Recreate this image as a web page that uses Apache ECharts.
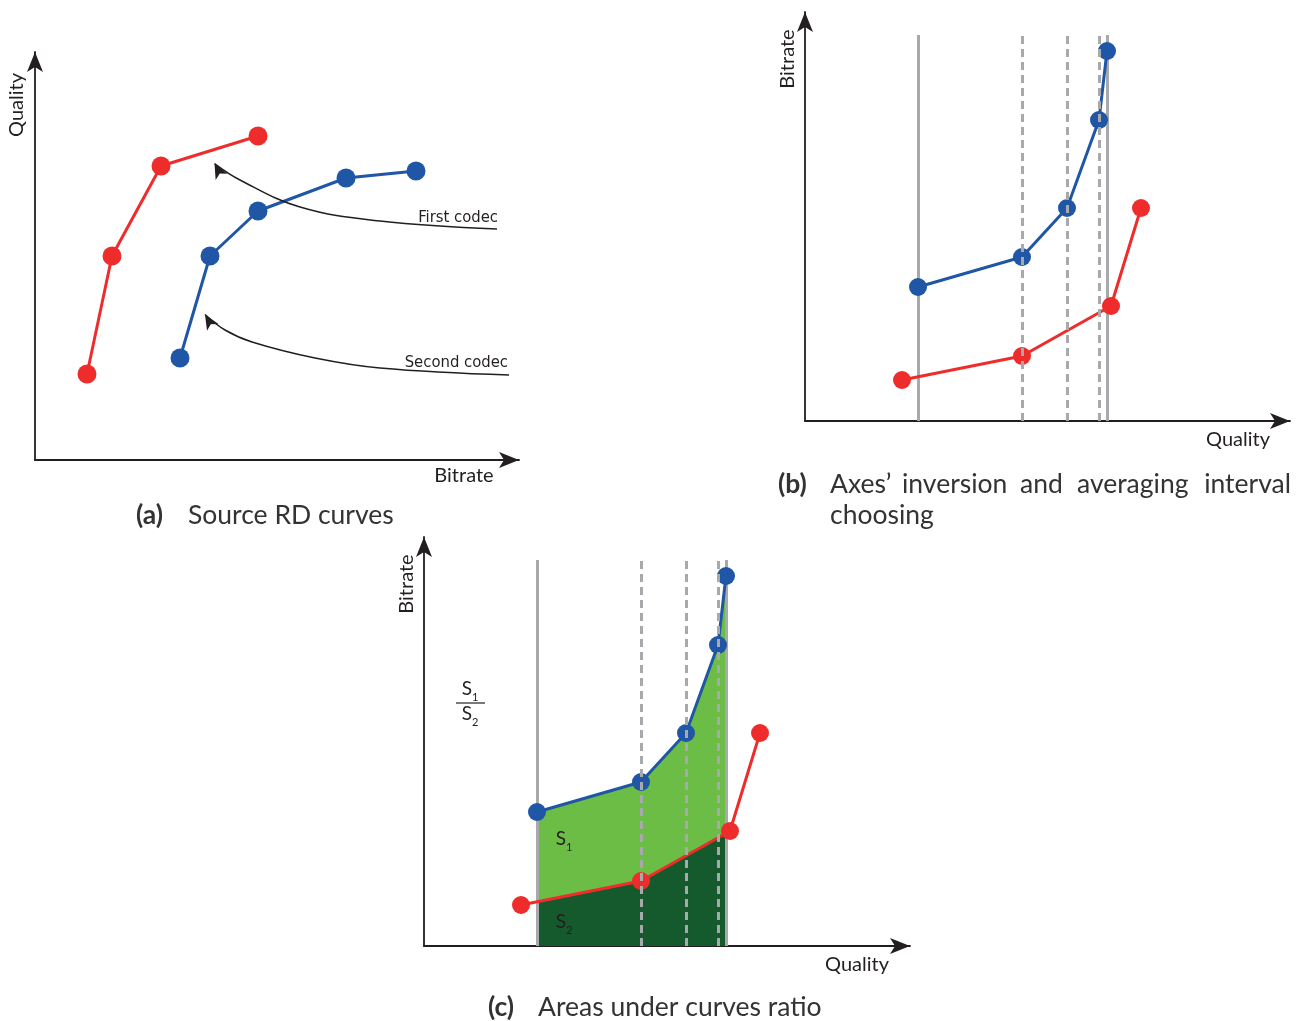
<!DOCTYPE html>
<html><head><meta charset="utf-8">
<script src="https://cdn.jsdelivr.net/npm/echarts@6/dist/echarts.min.js"></script>
<style>html,body{margin:0;padding:0;background:#fff}#c{width:1306px;height:1021px}</style>
</head><body><div id="c"></div>
<script>
// (a) source RD curves, points as [bitrate, quality]
const firstCodecRD = [[52,86],[77,204],[126,294],[223,324]];
const secondCodecRD = [[145,102],[175,204],[223,249],[311,282],[381,289]];
// annotation pointer paths in panel (a), last point carries the arrow head
const firstCodecPointer = [[462,231],[345,239],[265,253],[205,280],[179.5,296.4]];
const secondCodecPointer = [[474,85],[345,92],[280,102],[217,118],[190,130],[170,145.5]];
const pointerHeadAngle = [28, 31];
// (b), (c) inverted axes, points as [quality, bitrate]
const firstCodecInv = [[97,41],[217,65],[306,115],[336,213]];
const secondCodecInv = [[113,134],[217,164],[262,213],[294,301],[302,370]];
// averaging interval
const intervalBounds = [113, 302];
const averagingPoints = [217, 262, 294];
const guideTop = 386;

const RED = '#ee2c2c', BLUE = '#1f56a5', GREY = '#a7a9ac', INK = '#231f20';

const chart = echarts.init(document.getElementById('c'), null, {renderer:'canvas'});

const visAxis = (gi, max) => ({
  gridIndex: gi, type: 'value', min: 0, max: max,
  axisLine: {show: true, onZero: false, symbol: ['none','arrow'], symbolSize: [12,20],
             lineStyle: {color: INK, width: 1.8}},
  axisTick: {show: false}, axisLabel: {show: false}, splitLine: {show: false}
});

function curve(gi, data, color, size) {
  return {type:'line', xAxisIndex:gi, yAxisIndex:gi, data:data, symbol:'circle',
    symbolSize:size, showSymbol:true, lineStyle:{color:color, width:3},
    itemStyle:{color:color}, z:4, silent:true};
}
function pointer(path, angle) {
  return {type:'line', xAxisIndex:0, yAxisIndex:0, smooth:0.4, silent:true, z:4,
    lineStyle:{color:INK, width:1.5}, itemStyle:{color:INK}, showSymbol:true,
    data: path.map((p, i) => i === path.length - 1
      ? {value:p, symbol:'arrow', symbolSize:[10,15], symbolRotate:angle}
      : {value:p, symbol:'none'})};
}
function guides(gi, xs, dashed) {
  return {type:'lines', coordinateSystem:'cartesian2d', xAxisIndex:gi, yAxisIndex:gi,
    data: xs.map(x => ({coords:[[x,0],[x,guideTop]]})),
    lineStyle:{color:GREY, width:3, opacity:1, type: dashed ? [8,5] : 'solid'},
    z: dashed ? 5 : 3, silent:true};
}
function area(data, color, z) {
  return {type:'line', xAxisIndex:3, yAxisIndex:3, data:data, symbol:'none',
    lineStyle:{width:0, opacity:0}, areaStyle:{color:color, opacity:1}, z:z, silent:true, clip:true};
}

const txt = (text, x, y, o) => ({type:'text', x:x, y:y, rotation:(o && o.rot) || 0, z:10,
  style: Object.assign({text:text, fontFamily:'Lato', fontSize:20, fill:INK, align:'center', verticalAlign:'middle'}, (o && o.style) || {})});
const cap = (text, x, y, bold, align) => txt(text, x, y, {style:{fontSize:26.5, fill:'#333', align: align || 'left', fontWeight: bold ? 'bold' : 'normal'}});
const subRich = {
  s:{fontSize:19, fontFamily:'Lato', fill:INK, padding:[0,0,4,0]},
  d:{fontSize:11, fontFamily:'Lato', fill:INK, verticalAlign:'bottom'}
};
const sub = (base, idx, x, y) => ({type:'text', x:x, y:y, z:10,
  style:{text:'{s|' + base + '}{d|' + idx + '}', rich:subRich, align:'center', verticalAlign:'middle'}});
const note = (text, x, y) => txt(text, x, y, {style:{fontFamily:'DejaVu Sans Condensed', fontSize:16.5, align:'right'}});

const option = {
  animation: false,
  backgroundColor: '#fff',
  grid: [
    {left:35, top:52, width:484, height:408},
    {left:805, top:12, width:485, height:409},
    {left:424, top:537, width:486, height:409},
    {left:424 + intervalBounds[0], top:537, width:intervalBounds[1] - intervalBounds[0], height:409}
  ],
  xAxis: [visAxis(0,484), visAxis(1,485), visAxis(2,486),
    {gridIndex:3, type:'value', min:intervalBounds[0], max:intervalBounds[1], show:false}],
  yAxis: [visAxis(0,408), visAxis(1,409), visAxis(2,409),
    {gridIndex:3, type:'value', min:0, max:409, show:false}],
  series: [
    // (a)
    curve(0, firstCodecRD, RED, 19),
    curve(0, secondCodecRD, BLUE, 19),
    pointer(firstCodecPointer, pointerHeadAngle[0]),
    pointer(secondCodecPointer, pointerHeadAngle[1]),
    // (b)
    guides(1, intervalBounds, false),
    curve(1, secondCodecInv, BLUE, 18),
    curve(1, firstCodecInv, RED, 18),
    guides(1, averagingPoints, true),
    // (c)
    area(secondCodecInv, '#6cbd45', 1),
    area(firstCodecInv, '#145a2c', 2),
    guides(2, intervalBounds, false),
    curve(2, secondCodecInv, BLUE, 18),
    curve(2, firstCodecInv, RED, 18),
    guides(2, averagingPoints, true)
  ],
  graphic: [
    txt('Quality', 17, 105, {rot: Math.PI/2}),
    txt('Bitrate', 464, 476),
    note('First codec', 498, 218),
    note('Second codec', 508, 363),
    cap('(a)', 136, 515, true), cap('Source RD curves', 188, 515),

    txt('Bitrate', 788, 59, {rot: Math.PI/2}),
    txt('Quality', 1238, 440),
    cap('(b)', 778, 484, true),
    cap('Axes\u2019', 830, 484), cap('inversion', 902, 484), cap('and', 1020, 484),
    cap('averaging', 1077, 484), cap('interval', 1291, 484, false, 'right'),
    cap('choosing', 830, 515),

    txt('Bitrate', 407, 584, {rot: Math.PI/2}),
    txt('Quality', 857, 965),
    sub('S', '1', 470, 691),
    {type:'line', z:10, shape:{x1:456, y1:703, x2:485, y2:703}, style:{stroke:INK, lineWidth:1.2}},
    sub('S', '2', 470, 716),
    sub('S', '1', 564, 841),
    sub('S', '2', 564, 924),
    cap('(c)', 488, 1007, true), cap('Areas under curves ratio', 538, 1007)
  ]
};
chart.setOption(option);
</script></body></html>
